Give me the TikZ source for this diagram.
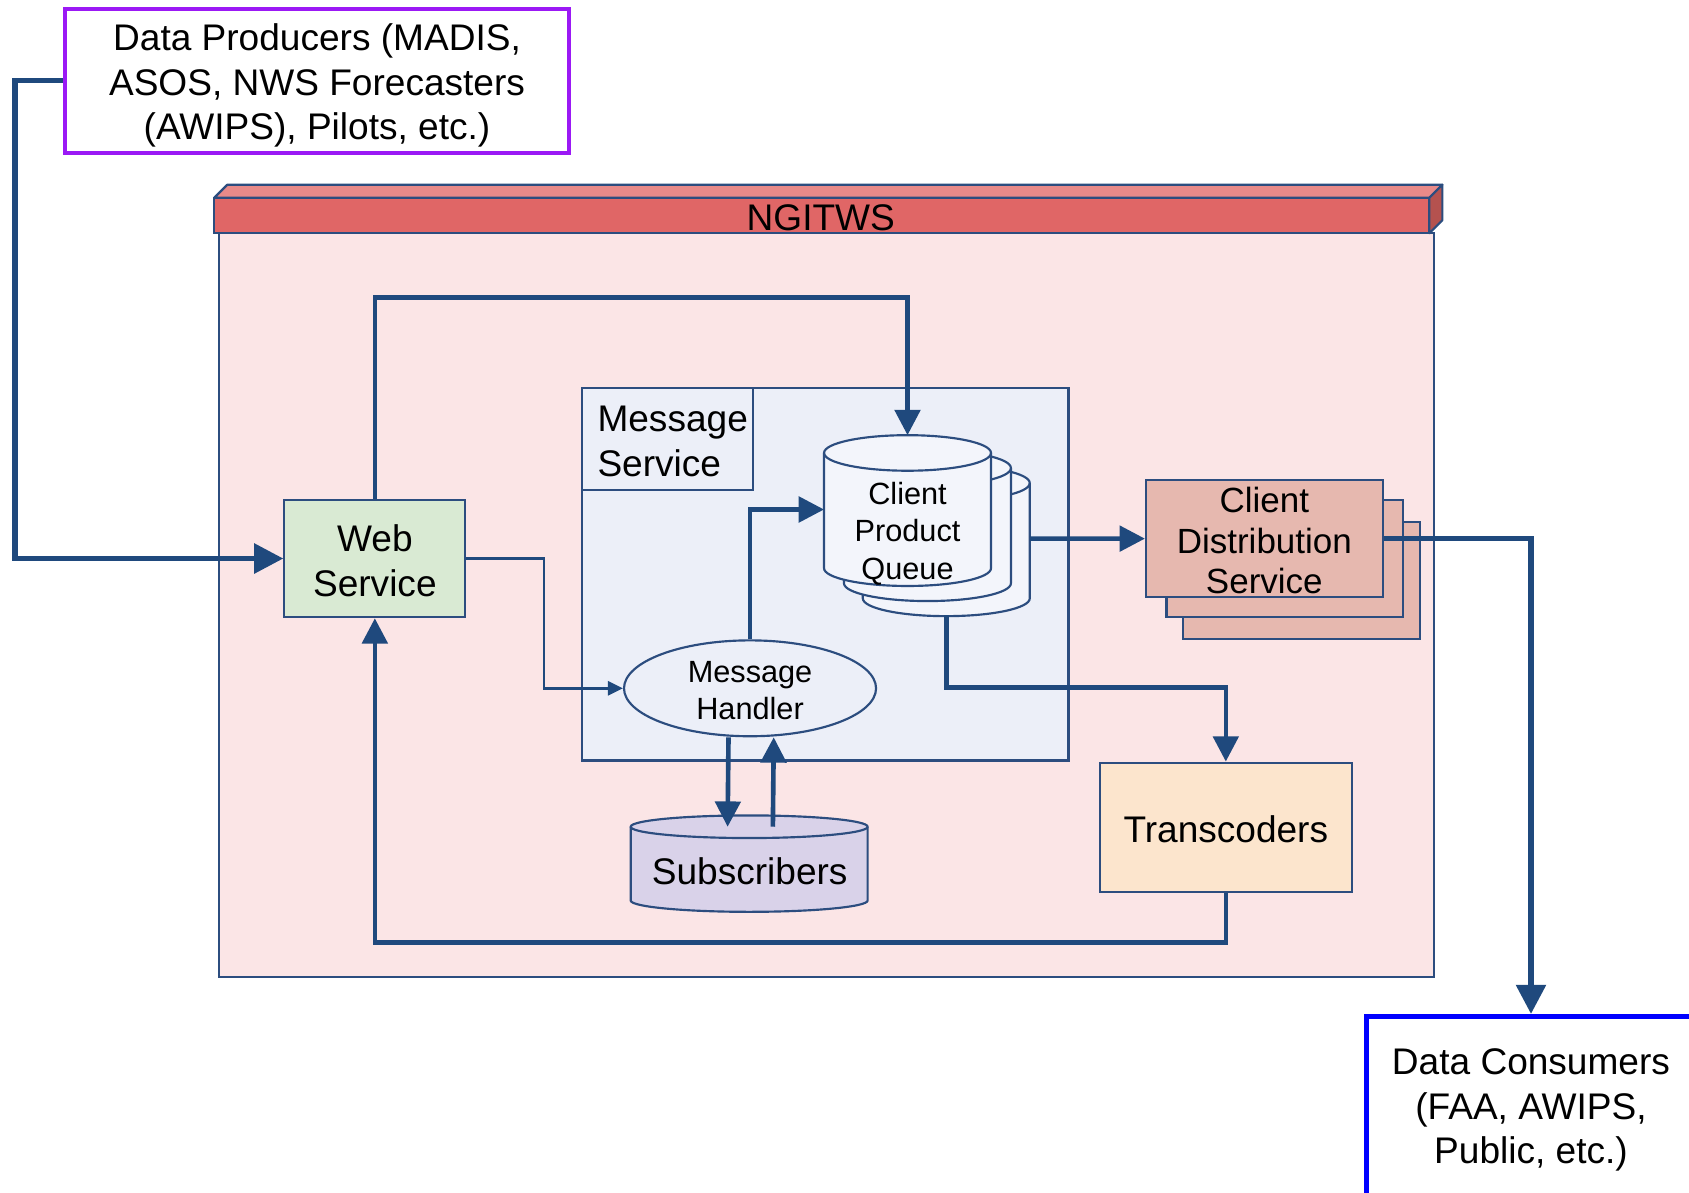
\documentclass[tikz,border=0pt]{standalone}
\usepackage{fontspec}
\setmainfont{Liberation Sans}
\usetikzlibrary{arrows.meta,shapes.geometric}

\definecolor{flow}{RGB}{31,73,125}
\definecolor{edge}{RGB}{44,77,127}
\definecolor{producer}{RGB}{155,25,245}
\definecolor{consumer}{RGB}{0,0,255}
\definecolor{barfront}{RGB}{224,102,102}
\definecolor{bartop}{RGB}{232,138,137}
\definecolor{barside}{RGB}{181,82,79}
\definecolor{bodypink}{RGB}{251,229,230}
\definecolor{msgfill}{RGB}{236,239,248}
\definecolor{drumfill}{RGB}{243,245,251}
\definecolor{webfill}{RGB}{217,234,211}
\definecolor{subfill}{RGB}{217,210,233}
\definecolor{transfill}{RGB}{252,229,205}
\definecolor{cdsfill}{RGB}{230,184,175}

% upright cylinder: centre x, x radius, top y, bottom y, end radius, fill
\newcommand\drum[6]{%
  \filldraw[draw=edge, line width=2pt, fill=#6]
    (#1-#2,#3) -- (#1-#2,#4)
    arc[start angle=180, end angle=0, x radius=#2, y radius=#5]
    -- (#1+#2,#3)
    arc[start angle=0, end angle=-180, x radius=#2, y radius=#5] -- cycle;
  \draw[edge, line width=2pt] (#1-#2,#3)
    arc[start angle=180, end angle=0, x radius=#2, y radius=#5];}

\begin{document}
\begin{tikzpicture}[x=1pt, y=-1pt,
  txtbig/.style={font=\fontsize{34.4}{41.5}\selectfont, inner sep=0pt, align=center},
  txtmid/.style={font=\fontsize{32.5}{38}\selectfont, inner sep=0pt, align=center},
  txtsmall/.style={font=\fontsize{28.5}{35}\selectfont, inner sep=0pt, align=center},
  boxed/.style={draw=edge, line width=2pt, inner sep=0pt},
  flowline/.style={draw=flow, line width=4.3pt, -{Triangle[length=23.5pt,width=23.5pt]}},
  mainflow/.style={draw=flow, line width=5pt, -{Triangle[length=27pt,width=27pt]}},
  thinflow/.style={draw=flow, line width=2.6pt, -{Triangle[length=14pt,width=13pt]}}]

\useasboundingbox (0,0) rectangle (1568,1107);
\clip (0,0) rectangle (1568,1107);
\fill[white] (0,0) rectangle (1568,1107);

% NGITWS container with its bevelled title bar
\draw[edge, line width=1.8pt, fill=bodypink] (203,216.5) rectangle (1331.5,907);
\draw[edge, line width=2pt, fill=bartop, line join=round]
  (199,183.5) -- (211,171.5) -- (1339,171.5) -- (1327,183.5) -- cycle;
\draw[edge, line width=2pt, fill=barside, line join=round]
  (1327,183.5) -- (1339,171.5) -- (1339,204.5) -- (1327,216.5) -- cycle;
\node[boxed, fill=barfront, minimum width=1128, minimum height=33] (ngitws) at (763,200) {};
\node[txtbig] (ngitws-text) at (762,202) {NGITWS};

% Message service
\node[boxed, fill=msgfill, minimum width=452, minimum height=346] (msgsvc) at (766,533) {};
\draw[edge, line width=2pt] (699,360) -- (699,455) -- (540,455);
\node[txtbig, align=left] (msglabel) at (624.5,409.5) {Message\\Service};

% Client product queue (stacked drums)
\drum{878.5}{77.5}{448.5}{555.5}{16.5}{drumfill}
\drum{861}{77.5}{434.5}{541.5}{16.5}{drumfill}
\drum{842.5}{77.5}{420.5}{527.5}{16.5}{drumfill}
\node[txtsmall] (cpq) at (842.5,495.5) {Client\\Product\\Queue};
\coordinate (cpq-top) at (842.5,404);
\coordinate (cpq-left) at (765,473);
\coordinate (cpq-right) at (956,500);
\coordinate (cpq-bottom) at (878.5,571);

% Client distribution service (stacked boxes)
\node[boxed, fill=cdsfill, minimum width=219.7, minimum height=108.7] (cds3) at (1208.25,539.05) {};
\node[boxed, fill=cdsfill, minimum width=219.7, minimum height=108.7] (cds2) at (1192.75,518.55) {};
\node[boxed, fill=cdsfill, minimum width=219.7, minimum height=108.7] (cds) at (1173.75,500.05) {};
\node[txtmid] (cds-text) at (1173.75,501.8) {Client\\Distribution\\Service};

% Subscribers store
\drum{695.5}{110}{767.5}{836}{10.5}{subfill}
\node[txtbig] (sub) at (696,809) {Subscribers};
\coordinate (sub-top) at (695.5,767.5);

% Message handler
\node[draw=edge, line width=2pt, fill=msgfill, ellipse, minimum width=234, minimum height=89,
  inner sep=0pt] (mh) at (696.3,639) {};
\node[txtsmall] (mh-text) at (696.3,641) {Message\\Handler};

% Transcoders
\node[boxed, fill=transfill, minimum width=234, minimum height=120] (tc) at (1138,768) {};
\node[txtbig] (tc-text) at (1138,770) {Transcoders};

% Web service
\node[boxed, fill=webfill, minimum width=168, minimum height=109] (ws) at (348,518.5) {};
\node[txtbig] (ws-text) at (348,520.5) {Web\\Service};

% External producers and consumers
\node[draw=producer, line width=3.7pt, fill=white, minimum width=467.6, minimum height=134,
  inner sep=0pt] (dp) at (294.3,75) {};
\node[txtbig] (dp-text) at (294.3,79.5)
  {Data Producers (MADIS,\\ASOS, NWS Forecasters\\(AWIPS), Pilots, etc.)};
\node[draw=consumer, line width=4.6pt, fill=white, minimum width=305, minimum height=165.8,
  inner sep=0pt] (dc) at (1421.3,1026.5) {};
\node[txtbig] (dc-text) at (1421.3,1030.5) {Data Consumers\\(FAA, AWIPS,\\Public, etc.)};

% routing rails
\coordinate (leftrail) at (14,75);
\coordinate (toprail) at (348,276);
\coordinate (wsbend) at (505,518.5);
\coordinate (lowrail) at (878.5,638);
\coordinate (botrail) at (1138,875);

% data flow
\draw[mainflow] (dp.west) -- (dp.west -| leftrail) |- (ws.west);
\draw[flowline] (ws.north) -- (ws.north |- toprail) -| (cpq-top);
\draw[thinflow] (ws.east) -- (ws.east -| wsbend) |- (mh.west);
\draw[flowline] (mh.north) |- (cpq-left);
\draw[flowline] (cpq-right) -- (cds.west);
\draw[flowline] (cpq-bottom) -- (cpq-bottom |- lowrail) -| (tc.north);
\draw[flowline] ([xshift=-20pt]mh.south) -- ([xshift=-20pt]sub-top);
\draw[flowline] ([xshift=22pt]sub-top) -- ([xshift=22pt]mh.south);
\draw[flowline] (tc.south) -- (tc.south |- botrail) -| (ws.south);
\draw[mainflow] (cds.east) -| (dc.north);
\end{tikzpicture}
\end{document}
